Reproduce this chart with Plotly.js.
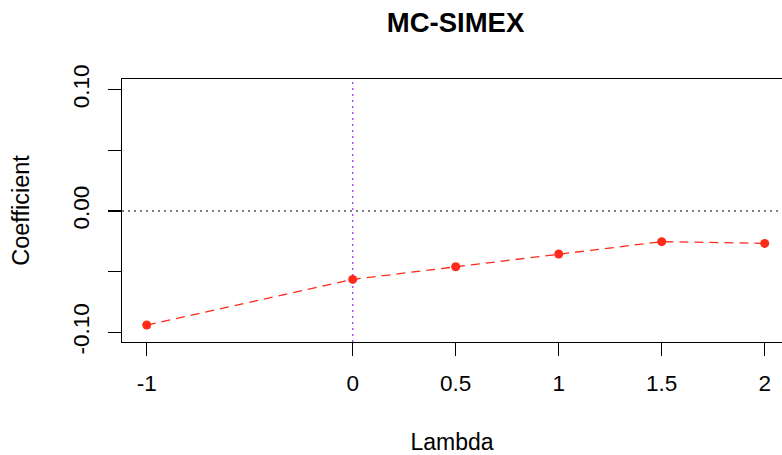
<!DOCTYPE html>
<html>
<head>
<meta charset="utf-8">
<script src="https://cdn.plot.ly/plotly-3.0.1.min.js"></script>
<style>html,body{margin:0;padding:0;background:#fff;}#chart{width:782px;height:455px;}</style>
</head>
<body>
<div id="chart"></div>
<script>
var lambda = [-1, 0, 0.5, 1, 1.5, 2];
var coefficient = [-0.094, -0.0564, -0.046, -0.0355, -0.0253, -0.0267];
var xTickVals = [-1, 0, 0.5, 1, 1.5, 2];
var xTickText = ['-1', '0', '0.5', '1', '1.5', '2'];
var yTickVals = [-0.1, -0.05, 0, 0.05, 0.1];
var yTickText = ['-0.10', '', '0.00', '', '0.10'];

var FONT = 'Liberation Sans, Arial, sans-serif';

var traces = [{
  x: lambda,
  y: coefficient,
  type: 'scatter',
  mode: 'lines+markers',
  line: {color: '#ff2a1a', width: 1.3, dash: '9px,6px'},
  marker: {color: '#ff2a1a', size: 9},
  hoverinfo: 'skip',
  showlegend: false
}];

var layout = {
  width: 782,
  height: 455,
  margin: {l: 122, r: 0, t: 79, b: 113, pad: 0},
  paper_bgcolor: '#ffffff',
  plot_bgcolor: '#ffffff',
  font: {family: FONT, color: '#000', size: 22},
  title: {
    text: '<b>MC-SIMEX</b>',
    font: {family: FONT, size: 27.5, color: '#000'},
    xref: 'container', x: 455.5 / 782, xanchor: 'center',
    yref: 'container', y: 1 - 22 / 455, yanchor: 'middle'
  },
  xaxis: {
    range: [-1.120, 2.084],
    tickvals: xTickVals,
    ticktext: xTickText,
    ticks: 'outside', ticklen: 13, tickwidth: 1.2, tickcolor: '#000',
    showline: true, linecolor: '#000', linewidth: 1.2, mirror: true,
    showgrid: false, zeroline: false,
    tickfont: {family: FONT, size: 22.5},
    ticklabelstandoff: 8,
    title: {text: 'Lambda', font: {family: FONT, size: 23}, standoff: 38}
  },
  yaxis: {
    range: [-0.1080, 0.1088],
    tickvals: yTickVals,
    ticktext: yTickText,
    tickangle: -90,
    ticks: 'outside', ticklen: 13, tickwidth: 1.2, tickcolor: '#000',
    showline: true, linecolor: '#000', linewidth: 1.2, mirror: false,
    showgrid: false, zeroline: false,
    tickfont: {family: FONT, size: 22.5},
    ticklabelstandoff: 10,
    title: {text: 'Coefficient', font: {family: FONT, size: 23.5}, standoff: 32}
  },
  shapes: [
    {type: 'line', xref: 'paper', x0: 0, x1: 1, yref: 'y', y0: 0, y1: 0,
     line: {color: '#000', width: 1.2, dash: '2px,4px'}, layer: 'below'},
    {type: 'line', xref: 'x', x0: 0, x1: 0, yref: 'paper', y0: 0, y1: 1,
     line: {color: '#a64cf5', width: 1.4, dash: '2px,4px'}, layer: 'below'}
  ]
};

Plotly.newPlot('chart', traces, layout, {displayModeBar: false, staticPlot: true});
</script>
</body>
</html>
